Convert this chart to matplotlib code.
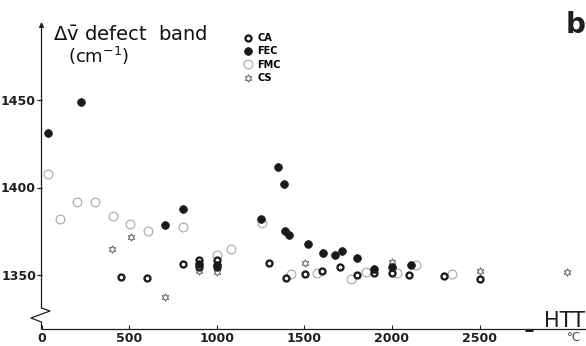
import matplotlib
matplotlib.use('Agg')
import matplotlib.pyplot as plt

# heat treatment temperature (deg C) and defect band shift (cm-1)
ca_htt = [455, 603, 805, 900, 900, 1000, 1000, 1301, 1398, 1503, 1602, 1703,
          1800, 1900, 2000, 2100, 2300, 2500]
ca_dv = [1349, 1348.3, 1356.3, 1358.6, 1354.8, 1358.6, 1354.4, 1356.7, 1348.2,
         1350.4, 1352.4, 1354.4, 1350, 1351, 1351, 1350.2, 1349.4, 1348]

fec_htt = [36, 228, 706, 807, 900, 1000, 1255, 1351, 1385, 1390, 1412, 1522,
           1607, 1676, 1718, 1803, 1900, 2000, 2110]
fec_dv = [1431, 1448.7, 1378.6, 1388, 1356.3, 1355.7, 1382, 1412, 1402, 1375.3,
          1373, 1367.7, 1362.5, 1361.7, 1364, 1359.5, 1353.2, 1354.8, 1355.7]

fmc_htt = [36, 103, 205, 304, 407, 505, 607, 807, 1000, 1079, 1256, 1423,
           1573, 1764, 1853, 2030, 2137, 2344]
fmc_dv = [1408, 1382, 1392, 1392, 1384, 1379, 1375.3, 1377.6, 1361.4, 1364.7,
          1380, 1350.4, 1351.4, 1348, 1351.7, 1351, 1356, 1350.4]

cs_htt = [405, 508, 704, 900, 1000, 1504, 2000, 2502, 2997]
cs_dv = [1365, 1371.5, 1337.6, 1352.5, 1351.9, 1356.6, 1357.6, 1352.3, 1351.7]

x_ticks = [0, 500, 1000, 1500, 2000, 2500]
y_ticks = [1350, 1400, 1450]

plt.rcParams['mathtext.fontset'] = 'dejavusans'
ink = '#1e1e1e'

W, H = 586, 346
fig = plt.figure(figsize=(W / 100, H / 100), dpi=100)
x0, y_axis = 41.5, 329  # pixel position of the axes origin
ax = fig.add_axes([x0 / W, (H - y_axis) / H, 1 - x0 / W, y_axis / H])
sx, sy = 0.1752, 1.75  # pixels per data unit
ax.set_xlim(0, (W - x0) / sx)
ax.set_ylim(1350 - (y_axis - 275) / sy, 1350 + 275 / sy)


def px(p, q):
    # pixel position -> data coordinates (for the hand drawn axis bits)
    return (p - x0) / sx, 1350 - (q - 275) / sy


for s in ['top', 'right', 'left']:
    ax.spines[s].set_visible(False)
ax.spines['bottom'].set_color(ink)
ax.spines['bottom'].set_linewidth(0.9)

# y axis with arrow and the break zigzag
ax.annotate('', xy=px(41.5, 22), xytext=px(41.5, 308),
            arrowprops=dict(arrowstyle='-|>', lw=0.9, color=ink, mutation_scale=7,
                            shrinkA=0, shrinkB=0))
zig = [px(41.5, 308), px(50, 311), px(31, 318), px(40, 321.5), px(41.5, 322), px(41.5, 329)]
ax.plot([p[0] for p in zig], [p[1] for p in zig], color=ink, lw=0.9, clip_on=False)
seg = [px(525, 329.5), px(533, 329.5)]
ax.plot([p[0] for p in seg], [p[1] for p in seg], color=ink, lw=2.2, clip_on=False,
        solid_capstyle='butt')

ax.set_xticks(x_ticks)
ax.set_yticks(y_ticks)
ax.tick_params(axis='x', direction='in', length=3, width=0.8, color=ink, pad=2,
               labelsize=9, labelcolor=ink)
ax.tick_params(axis='y', direction='out', length=3.5, width=0.9, color=ink, pad=0.5,
               labelsize=9, labelcolor=ink)
for lab in ax.get_xticklabels() + ax.get_yticklabels():
    lab.set_fontweight('bold')

ax.plot(ca_htt, ca_dv, 'o', ms=4.3, mfc='white', mec=ink, mew=1.7, label='CA', zorder=4)
ax.plot(fec_htt, fec_dv, 'o', ms=5.6, mfc='#1a1a1a', mec='#1a1a1a', mew=0.5,
        label='FEC', zorder=5)
ax.plot(fmc_htt, fmc_dv, 'o', ms=6.3, mfc='none', mec='#a8a8a8', mew=0.8,
        label='FMC', zorder=3)
ax.plot(cs_htt, cs_dv, marker=(6, 1, 0), ls='none', ms=5.5, mfc='white', mec='#666666',
        mew=0.7, label='CS', zorder=3)

ax.legend(loc='upper left', bbox_to_anchor=(243 / W, 1 - 33 / H),
          bbox_transform=fig.transFigure, frameon=False, numpoints=1,
          handlelength=1.0, handletextpad=0.45, labelspacing=0.35, borderpad=0,
          borderaxespad=0, prop={'weight': 'bold', 'size': 7})

fig.text(53 / W, 1 - 40 / H, r'$\Delta\bar{\mathrm{v}}$ defect  band', fontsize=14,
         color='#111111', va='baseline')
fig.text(68 / W, 1 - 63 / H, r'(cm$^{-1}$)', fontsize=13, color='#111111', va='baseline')
fig.text(566 / W, 1 - 33 / H, 'b', fontsize=20, fontweight='bold', color=ink,
         va='baseline')
fig.text(544 / W, 1 - 327 / H, 'HTT', fontsize=15, color=ink, va='baseline')
fig.text(567 / W, 1 - 331 / H, '°C', fontsize=8.5, color='#444444', va='top')

fig.savefig('out.png', dpi=100)
